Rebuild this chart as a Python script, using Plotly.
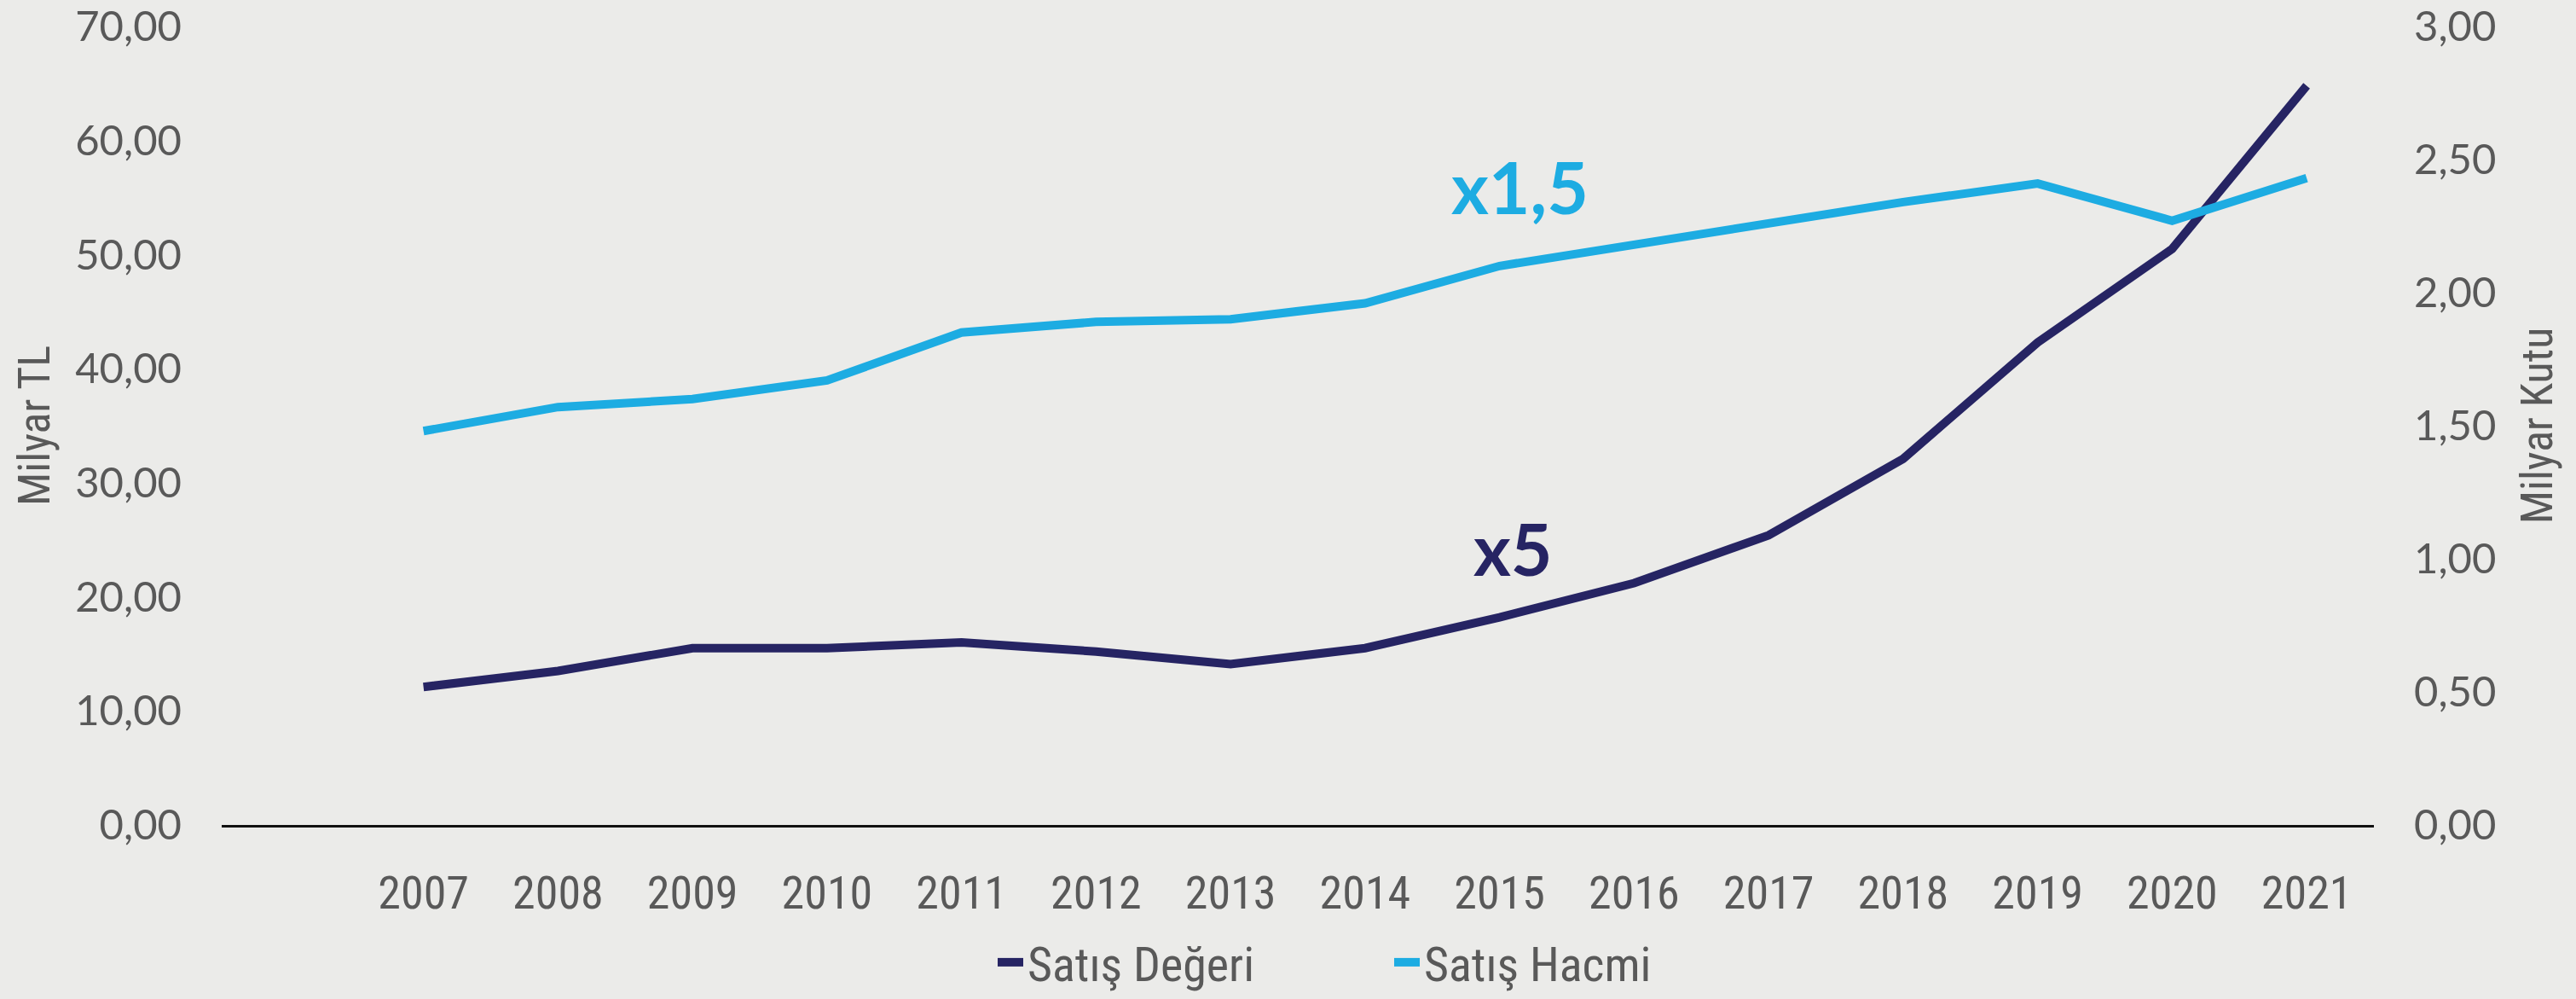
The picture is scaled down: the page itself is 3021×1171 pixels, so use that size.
import plotly.graph_objects as go

years = [2007, 2008, 2009, 2010, 2011, 2012, 2013, 2014,
         2015, 2016, 2017, 2018, 2019, 2020, 2021]
satis_degeri = [12.1, 13.5, 15.5, 15.5, 16.0, 15.2, 14.1, 15.5,
                18.2, 21.2, 25.4, 32.1, 42.3, 50.5, 64.8]   # Milyar TL
satis_hacmi = [1.48, 1.57, 1.60, 1.67, 1.85, 1.89, 1.90, 1.96,
               2.10, 2.18, 2.26, 2.34, 2.41, 2.27, 2.43]    # Milyar Kutu

NAVY = "#262463"
BLUE = "#1DACE2"
GREY = "#595959"
GEO = "Century Gothic, URW Gothic, Lato, sans-serif"
NARROW = "Liberation Sans Narrow, Arial Narrow, Roboto Condensed, sans-serif"

fig = go.Figure()
fig.add_trace(go.Scatter(x=years, y=satis_degeri, name="Satış Değeri", mode="lines",
                         line=dict(color=NAVY, width=10)))
fig.add_trace(go.Scatter(x=years, y=satis_hacmi, name="Satış Hacmi", mode="lines",
                         line=dict(color=BLUE, width=10), yaxis="y2"))

fig.add_annotation(x=2015.15, y=56.0, text="<b>x1,5</b>", showarrow=False,
                   font=dict(family=GEO, size=84, color=BLUE))
fig.add_annotation(x=2015.1, y=24.3, text="<b>x5</b>", showarrow=False,
                   font=dict(family=GEO, size=84, color=NAVY))

fig.update_layout(
    width=3021, height=1171,
    margin=dict(l=260, r=237, t=31, b=204, autoexpand=False),
    paper_bgcolor="#EBEBE9", plot_bgcolor="#EBEBE9",
    separators=",.",
    showlegend=True,
    legend=dict(orientation="h", xref="container", yref="container",
                x=1165 / 3021, xanchor="left", y=1 - 1128 / 1171, yanchor="middle",
                font=dict(family=NARROW, size=56, color=GREY), bgcolor="rgba(0,0,0,0)",
                entrywidth=420, itemwidth=30),
    xaxis=dict(range=[2005.5, 2021.5], tickmode="array", tickvals=years,
               ticktext=[str(y) for y in years], showgrid=False, zeroline=False,
               showline=True, linecolor="#111111", linewidth=3, ticks="",
               ticklabelstandoff=30,
               tickfont=dict(family=NARROW, size=54, color=GREY)),
    yaxis=dict(range=[0, 70], dtick=10, tickformat=".2f", showgrid=False, zeroline=False,
               showline=False, ticks="", ticklabelstandoff=46,
               tickfont=dict(family=GEO, size=49, color=GREY),
               title=dict(text="Milyar TL", standoff=12,
                          font=dict(family=NARROW, size=52, color=GREY))),
    yaxis2=dict(range=[0, 3], dtick=0.5, tickformat=".2f", overlaying="y", side="right",
                showgrid=False, zeroline=False, showline=False, ticks="",
                ticklabelstandoff=46,
                tickfont=dict(family=GEO, size=49, color=GREY),
                title=dict(text="Milyar Kutu", standoff=30,
                           font=dict(family=NARROW, size=52, color=GREY))),
)

# drop the page's default 8px body margin so the figure fills the window
fig.write_html("out.html", config={"displayModeBar": False},
               post_script="document.body.style.margin='0';")
